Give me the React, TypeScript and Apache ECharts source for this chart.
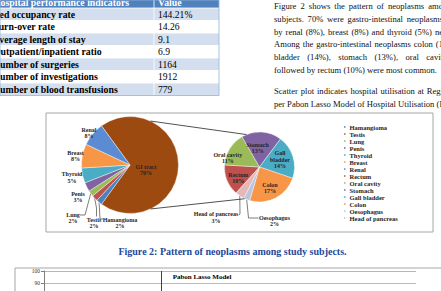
import React, { useEffect, useRef } from "react";
import * as echarts from "echarts";

// ---------- data ----------
const mainCategories = ["GI tract", "Hamangioma", "Testis", "Lung", "Penis", "Thyroid", "Breast", "Renal"];
const mainValues = [70, 2, 2, 2, 3, 5, 8, 8];
const giCategories = ["Rectum", "Oral cavity", "Stomach", "Gall bladder", "Colon", "Oesophagus", "Head of pancreas"];
const giValues = [10, 11, 13, 14, 17, 2, 3];
const legendOrder = ["Hamangioma", "Testis", "Lung", "Penis", "Thyroid", "Breast", "Renal", "Rectum", "Oral cavity", "Stomach", "Gall bladder", "Colon", "Oesophagus", "Head of pancreas"];

const tableHeader = ["Hospital performance indicators", "Value"];
const tableIndicators = ["Bed occupancy rate", "Turn-over rate", "Average length of stay", "Outpatient/inpatient ratio", "Number of surgeries", "Number of investigations", "Number of blood transfusions"];
const tableValues = ["144.21%", "14.26", "9.1", "6.9", "1164", "1912", "779"];

const paragraphLines = [
  "Figure 2 shows the pattern of neoplasms amo",
  "subjects. 70% were gastro-intestinal neoplasms",
  "by renal (8%), breast (8%) and thyroid (5%) ne",
  "Among the gastro-intestinal neoplasms colon (1",
  "bladder (14%), stomach (13%), oral cavit",
  "followed by rectum (10%) were most common.",
  "",
  "Scatter plot indicates hospital utilisation at Regi",
  "per Pabon Lasso Model of Hospital Utilisation (H",
];
const caption = "Figure 2: Pattern of neoplasms among study subjects.";
const pabonTitle = "Pabon Lasso Model";
const pabonYMin = 0;
const pabonYMax = 100;
const pabonYInterval = 10;
const pabonXMax = 200;
const pabonMeanX = 63;

// ---------- styles / layout ----------
const colors: Record<string, string> = {
  "GI tract": "#9C4A10",
  Hamangioma: "#4F81BD",
  Testis: "#C0504D",
  Lung: "#9BBB59",
  Penis: "#8064A2",
  Thyroid: "#4BACC6",
  Breast: "#F79646",
  Renal: "#5B8BD3",
  Rectum: "#C0504D",
  "Oral cavity": "#9BBB59",
  Stomach: "#8064A2",
  "Gall bladder": "#4BACC6",
  Colon: "#F79646",
  Oesophagus: "#B9C4DE",
  "Head of pancreas": "#E5B8B7",
};
const SERIF = '"Liberation Serif", "Times New Roman", serif';
const PIE1 = { cx: 130, cy: 165, r: 48.5 };
const PIE2 = { cx: 259.5, cy: 167, r: 35 };
const labelPos: Record<string, [number, number]> = {
  "GI tract": [146, 169.7],
  Hamangioma: [120, 222.7],
  Testis: [94, 222.7],
  Lung: [73, 217.7],
  Penis: [78, 197],
  Thyroid: [72, 177.5],
  Breast: [75.5, 156],
  Renal: [89, 133],
  Stomach: [257.7, 148],
  "Gall bladder": [280, 159.7],
  Colon: [270, 187.7],
  Rectum: [238.3, 178.3],
  "Oral cavity": [227.8, 158],
  "Head of pancreas": [216, 217.5],
  Oesophagus: [274.5, 221.3],
};
const leaders: Record<string, [number, number][]> = {
  Lung: [[85, 215], [80, 215]],
  Testis: [[96.5, 208], [96.5, 216.5]],
  Hamangioma: [[100, 219], [103, 219]],
  "Head of pancreas": [[240, 214], [239, 215]],
  Oesophagus: [[248.5, 218], [258.5, 218]],
};

function measureCtx(font: string) {
  const c = document.createElement("canvas").getContext("2d")!;
  c.font = font;
  return c;
}

function paragraphElements() {
  const font = '8.6px "Liberation Serif"';
  const ctx = measureCtx(font);
  const x0 = 274;
  const x1 = 443;
  const ys = [6, 19, 31.5, 44, 57, 69.5, 80, 91, 104];
  const els: any[] = [];
  paragraphLines.forEach((line, li) => {
    if (!line) return;
    const justify = li !== 5;
    const words = line.split(" ");
    const widths = words.map((w) => ctx.measureText(w).width);
    const space = ctx.measureText(" ").width;
    const natural = widths.reduce((a, b) => a + b, 0) + space * (words.length - 1);
    const gap = justify && words.length > 1 ? space + Math.max(0, x1 - x0 - natural) / (words.length - 1) : space;
    let x = x0;
    words.forEach((w, i) => {
      els.push({ type: "text", x, y: ys[li], style: { text: w, font, fill: "#111", textVerticalAlign: "middle" } });
      x += widths[i] + gap;
    });
  });
  return els;
}

function tableElements() {
  const els: any[] = [];
  const left = -7;
  const right = 219;
  const split = 154;
  const rowTop = 8;
  const rowH = 12.5;
  els.push({ type: "rect", shape: { x: 0, y: 0, width: right, height: rowTop }, style: { fill: "#4F81BD" } });
  els.push({ type: "text", x: left, y: 2.6, style: { text: tableHeader[0], font: 'bold 9.8px "Liberation Serif"', fill: "#fff", textVerticalAlign: "middle" } });
  els.push({ type: "text", x: 158, y: 2.6, style: { text: tableHeader[1], font: 'bold 9.8px "Liberation Serif"', fill: "#fff", textVerticalAlign: "middle" } });
  tableIndicators.forEach((name, i) => {
    const y = rowTop + i * rowH;
    els.push({ type: "rect", shape: { x: 0, y, width: right, height: rowH }, style: { fill: i % 2 === 0 ? "#D3DFEE" : "#FFFFFF" } });
    els.push({ type: "text", x: left, y: y + rowH / 2 + 0.2, style: { text: name, font: 'bold 9.8px "Liberation Serif"', fill: "#000", textVerticalAlign: "middle" } });
    els.push({ type: "text", x: 158, y: y + rowH / 2 + 0.2, style: { text: tableValues[i], font: '9.6px "Liberation Serif"', fill: "#000", textVerticalAlign: "middle" } });
    els.push({ type: "line", shape: { x1: 0, y1: y, x2: right, y2: y }, style: { stroke: "#ffffff", lineWidth: 0.8 } });
  });
  els.push({ type: "line", shape: { x1: split, y1: 0, x2: split, y2: rowTop + tableIndicators.length * rowH }, style: { stroke: "#ffffff", lineWidth: 0.8 } });
  els.push({ type: "rect", shape: { x: 0, y: 0, width: right, height: rowTop + tableIndicators.length * rowH }, style: { fill: "none", stroke: "#95B3D7", lineWidth: 0.8 } });
  return els;
}

function pt(p: { cx: number; cy: number; r: number }, deg: number) {
  const a = (deg * Math.PI) / 180;
  return [p.cx + p.r * Math.cos(a), p.cy - p.r * Math.sin(a)];
}

function makeLabelLayout(names: string[]) {
  return (params: any) => {
    const name = names[params.dataIndex];
    const pos = labelPos[name];
    if (!pos) return {};
    const out: any = { x: pos[0], y: pos[1], align: "center", verticalAlign: "middle" };
    const lead = leaders[name];
    if (lead && params.labelLinePoints) {
      out.labelLinePoints = [params.labelLinePoints[0], lead[0], lead[1]];
    }
    return out;
  };
}

const labelStyle = {
  show: true,
  position: "outside",
  fontSize: 6,
  lineHeight: 6.4,
  fontWeight: "bold",
  fontFamily: SERIF,
  color: "#262626",
  formatter: (p: any) => (p.name === "Gall bladder" ? "Gall\nbladder" : p.name) + "\n" + p.value + "%",
};

export default function App() {
  const ref = useRef<HTMLDivElement>(null);
  useEffect(() => {
    const chart = echarts.init(ref.current!, null, { renderer: "svg" });
    const t1 = pt(PIE1, 65);
    const b1 = pt(PIE1, -65);
    const t2 = pt(PIE2, 112);
    const b2 = pt(PIE2, -115);
    const option: any = {
      animation: false,
      backgroundColor: "#ffffff",
      title: {
        text: pabonTitle,
        left: 202,
        top: 273.5,
        textAlign: "center",
        padding: 0,
        textStyle: { fontSize: 7, fontWeight: "bold", fontFamily: SERIF, color: "#000" },
      },
      legend: {
        orient: "vertical",
        left: 342,
        top: 123.5,
        padding: 0,
        itemWidth: 3.5,
        itemHeight: 3.5,
        itemGap: 0,
        icon: "rect",
        selectedMode: false,
        data: legendOrder,
        textStyle: { fontSize: 6.5, lineHeight: 6.95, fontWeight: "bold", fontFamily: SERIF, color: "#262626", padding: [0, 0, 0, -2] },
      },
      grid: { left: 44, top: 271, width: 372, height: 120, outerBoundsMode: "none", containLabel: false },
      xAxis: { type: "value", min: 0, max: pabonXMax, show: false },
      yAxis: {
        type: "value",
        min: pabonYMin,
        max: pabonYMax,
        interval: pabonYInterval,
        axisLine: { show: true, lineStyle: { color: "#7f7f7f", width: 1 } },
        axisTick: { show: true, length: 3, lineStyle: { color: "#7f7f7f" } },
        axisLabel: { fontSize: 5.5, fontFamily: SERIF, color: "#333", margin: 4 },
        splitLine: { show: true, lineStyle: { color: "#a6a6a6", width: 0.8 } },
      },
      graphic: [
        ...tableElements(),
        ...paragraphElements(),
        { type: "rect", shape: { x: 46, y: 113, width: 387, height: 119 }, style: { fill: "none", stroke: "#a6a6a6", lineWidth: 1 } },
        { type: "line", z: 100, shape: { x1: t1[0], y1: t1[1], x2: t2[0], y2: t2[1] }, style: { stroke: "#262626", lineWidth: 0.8 } },
        { type: "line", z: 100, shape: { x1: b1[0], y1: b1[1], x2: b2[0], y2: b2[1] }, style: { stroke: "#262626", lineWidth: 0.8 } },
        { type: "text", x: 232.5, y: 251, style: { text: caption, font: 'bold 10px "Liberation Serif"', fill: "#24489A", textAlign: "center", textVerticalAlign: "middle" } },
        { type: "rect", shape: { x: 15, y: 268, width: 440, height: 60 }, style: { fill: "none", stroke: "#a6a6a6", lineWidth: 1 } },
      ],
      series: [
        {
          type: "pie",
          center: [PIE1.cx, PIE1.cy],
          radius: PIE1.r,
          startAngle: 126,
          clockwise: true,
          avoidLabelOverlap: false,
          label: labelStyle,
          labelLine: { show: false, length: 2, length2: 2, lineStyle: { color: "#262626", width: 0.6 } },
          labelLayout: makeLabelLayout(mainCategories),
          itemStyle: { borderColor: "#ffffff", borderWidth: 0.4 },
          emphasis: { disabled: true },
          data: mainCategories.map((n, i) => ({ name: n, value: mainValues[i], itemStyle: { color: colors[n] }, labelLine: { show: !!leaders[n] } })),
        },
        {
          type: "pie",
          center: [PIE2.cx, PIE2.cy],
          radius: PIE2.r,
          startAngle: 228,
          clockwise: true,
          avoidLabelOverlap: false,
          label: labelStyle,
          labelLine: { show: false, length: 2, length2: 2, lineStyle: { color: "#262626", width: 0.6 } },
          labelLayout: makeLabelLayout(giCategories),
          itemStyle: { borderColor: "#ffffff", borderWidth: 0.4 },
          emphasis: { disabled: true },
          data: giCategories.map((n, i) => ({ name: n, value: giValues[i], itemStyle: { color: colors[n] }, labelLine: { show: !!leaders[n] } })),
        },
        {
          type: "scatter",
          data: [],
          silent: true,
          markLine: {
            silent: true,
            symbol: "none",
            label: { show: false },
            lineStyle: { color: "#404040", width: 1, type: "solid" },
            data: [{ xAxis: pabonMeanX }],
          },
        },
      ],
    };
    chart.setOption(option);
    return () => chart.dispose();
  }, []);
  return <div ref={ref} style={{ position: "fixed", left: 0, top: 0, width: 441, height: 291, background: "#fff" }} />;
}
